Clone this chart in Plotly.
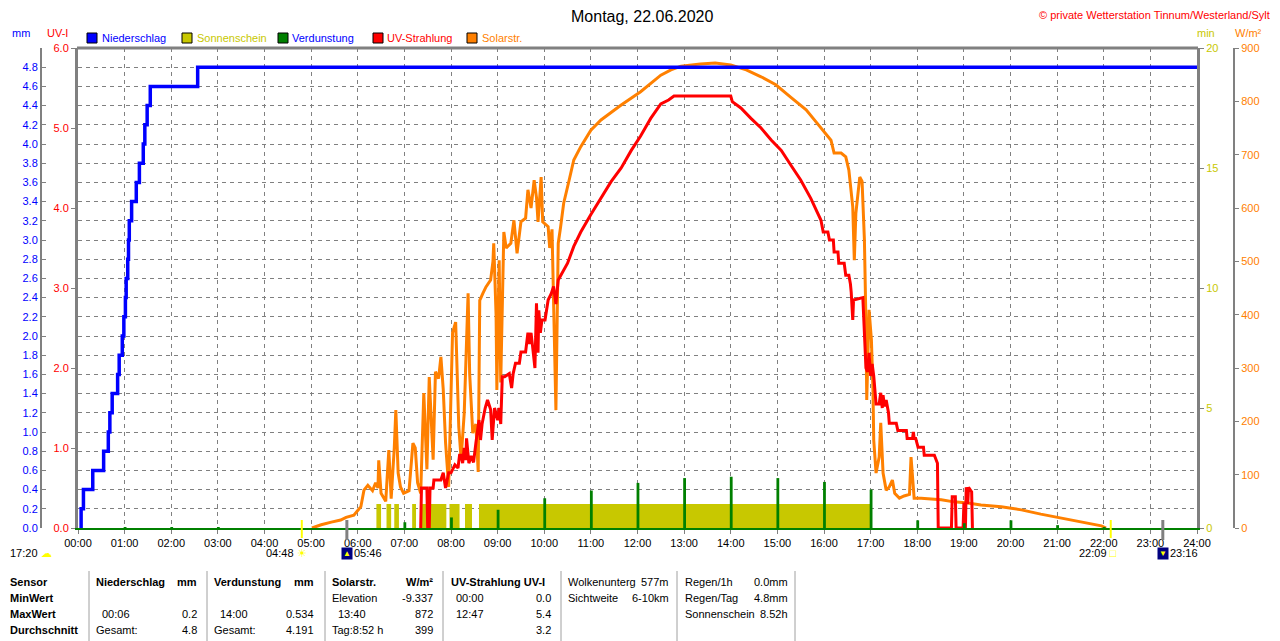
import plotly.graph_objects as go

# ---------------- data ----------------
hour_ticks = list(range(0, 25))
hour_labels = ["%02d:00" % h for h in hour_ticks]

mm_ticks = [0.0, 0.2, 0.4, 0.6, 0.8, 1.0, 1.2, 1.4, 1.6, 1.8, 2.0, 2.2, 2.4,
            2.6, 2.8, 3.0, 3.2, 3.4, 3.6, 3.8, 4.0, 4.2, 4.4, 4.6, 4.8]
uv_ticks = [0, 1, 2, 3, 4, 5, 6]
min_ticks = [0, 5, 10, 15, 20]
wm2_ticks = [0, 100, 200, 300, 400, 500, 600, 700, 800, 900]

# Niederschlag (cumulative, mm)
rain_time = ["00:03", "00:04", "00:07", "00:19", "00:33", "00:39", "00:41", "00:44",
             "00:51", "00:53", "00:57", "00:59", "01:01", "01:02", "01:04", "01:05",
             "01:06", "01:09", "01:15", "01:19", "01:24", "01:26", "01:29", "01:33",
             "02:34", "24:00"]
rain_mm = [0.0, 0.2, 0.4, 0.6, 0.8, 1.0, 1.2, 1.4, 1.6, 1.8, 2.0, 2.2, 2.4, 2.6,
           2.8, 3.0, 3.2, 3.4, 3.6, 3.8, 4.0, 4.2, 4.4, 4.6, 4.8, 4.8]

# Sonnenschein (min per minute), sunny periods
sun_start = ["06:24", "06:37", "06:47", "07:10", "07:21", "07:58", "08:18", "08:36"]
sun_end = ["06:30", "06:43", "06:53", "07:15", "07:54", "08:11", "08:27", "17:00"]
sun_min = [1, 1, 1, 1, 1, 1, 1, 1]

# Verdunstung (hourly, mm)
evap_time = ["01:00", "02:00", "03:00", "07:00", "08:00", "09:00", "10:00", "11:00",
             "12:00", "13:00", "14:00", "15:00", "16:00", "17:00", "18:00", "19:00",
             "20:00", "21:00", "22:00"]
evap_mm = [0.01, 0.01, 0.01, 0.06, 0.11, 0.19, 0.31, 0.39, 0.47, 0.52, 0.534, 0.52,
           0.48, 0.40, 0.08, 0.05, 0.08, 0.03, 0.01]

# UV-Strahlung (UV-I)
uv_time = ["07:21", "07:22", "07:29", "07:30", "07:32", "07:33", "07:37", "07:38",
           "07:47", "07:50", "07:53", "07:55", "07:57", "08:00", "08:05", "08:09",
           "08:11", "08:13", "08:15", "08:17", "08:19", "08:20", "08:23", "08:26",
           "08:29", "08:32", "08:36", "08:38", "08:40", "08:44", "08:47", "08:51",
           "08:53", "08:56", "09:00", "09:02", "09:04", "09:06", "09:09", "09:15",
           "09:18", "09:20", "09:23", "09:28", "09:30", "09:36", "09:39", "09:41",
           "09:43", "09:45", "09:48", "09:50", "09:52", "09:53", "09:55", "09:57",
           "10:01", "10:05", "10:09", "10:12", "10:15", "10:18", "10:24", "10:30",
           "10:38", "10:47", "11:00", "11:13", "11:26", "11:39", "11:52", "12:04",
           "12:17", "12:30", "12:40", "12:47", "14:00", "14:02", "14:13", "14:26",
           "14:39", "14:52", "15:05", "15:17", "15:30", "15:43", "15:56", "15:59",
           "16:05", "16:07", "16:12", "16:13", "16:18", "16:19", "16:26", "16:28",
           "16:32", "16:34", "16:35", "16:37", "16:38", "16:50", "16:52", "16:54",
           "16:56", "16:58", "17:00", "17:02", "17:04", "17:07", "17:11", "17:13",
           "17:15", "17:16", "17:18", "17:20", "17:23", "17:24", "17:33", "17:35",
           "17:46", "17:47", "17:52", "17:54", "17:55", "17:56", "17:58", "18:01",
           "18:08", "18:09", "18:22", "18:25", "18:26", "18:27", "18:44", "18:45",
           "18:49", "18:50", "18:59", "19:00", "19:01", "19:02", "19:03", "19:05",
           "19:06", "19:10", "19:11"]
uv_val = [0.0, 0.5, 0.5, 0.0, 0.0, 0.5, 0.5, 0.6,
          0.6, 0.69, 0.5, 0.62, 0.69, 0.69, 0.79, 0.75,
          0.91, 0.91, 0.81, 1.0, 0.85, 1.12, 0.81, 0.9,
          0.82, 1.06, 1.35, 1.1, 1.3, 1.5, 1.6, 1.48,
          1.1, 1.5, 1.35, 1.5, 1.3, 1.89, 1.89, 1.93,
          1.75, 1.93, 2.06, 2.06, 2.2, 2.2, 2.44, 2.3,
          2.44, 2.27, 2.0, 2.81, 2.19, 2.72, 2.44, 2.6,
          2.6, 2.85, 2.93, 3.02, 2.8, 3.1, 3.2, 3.31,
          3.52, 3.7, 3.92, 4.12, 4.33, 4.5, 4.72, 4.9,
          5.12, 5.3, 5.35, 5.4, 5.4, 5.33, 5.25, 5.12,
          5.0, 4.85, 4.72, 4.54, 4.35, 4.12, 3.85, 3.7,
          3.7, 3.6, 3.6, 3.45, 3.45, 3.31, 3.31, 3.16,
          3.16, 3.05, 2.95, 2.6, 2.85, 2.88, 2.35, 2.0,
          1.95, 2.19, 1.9, 2.05, 1.9, 1.55, 1.55, 1.69,
          1.5, 1.66, 1.52, 1.6, 1.44, 1.31, 1.31, 1.22,
          1.22, 1.12, 1.12, 1.12, 1.2, 1.12, 1.12, 1.01,
          1.01, 0.91, 0.91, 0.81, 0.81, 0.0, 0.0, 0.39,
          0.39, 0.0, 0.0, 0.3, 0.3, 0.0, 0.51, 0.3,
          0.51, 0.45, 0.0]

# Solarstrahlung (W/m²)
solar_time = ["05:01", "05:13", "05:26", "05:38", "05:45", "05:55", "06:04", "06:08",
              "06:13", "06:19", "06:23", "06:26", "06:27", "06:30", "06:36", "06:40",
              "06:43", "06:47", "06:49", "06:52", "06:55", "06:59", "07:06", "07:11",
              "07:14", "07:17", "07:21", "07:25", "07:29", "07:32", "07:37", "07:40",
              "07:44", "07:47", "07:50", "07:53", "07:57", "08:02", "08:06", "08:10",
              "08:13", "08:17", "08:22", "08:24", "08:28", "08:32", "08:35", "08:37",
              "08:41", "08:45", "08:51", "08:54", "08:55", "08:58", "08:59", "09:02",
              "09:04", "09:08", "09:11", "09:17", "09:21", "09:25", "09:30", "09:36",
              "09:39", "09:43", "09:47", "09:50", "09:52", "09:56", "09:58", "10:05",
              "10:07", "10:10", "10:15", "10:18", "10:21", "10:25", "10:32", "10:38",
              "10:47", "11:00", "11:13", "11:39", "12:04", "12:17", "12:30", "12:43",
              "12:56", "13:21", "13:40", "14:00", "14:20", "14:39", "14:58", "15:17",
              "15:37", "15:50", "16:03", "16:09", "16:13", "16:22", "16:28", "16:32",
              "16:37", "16:39", "16:41", "16:44", "16:46", "16:49", "16:52", "16:54",
              "16:55", "16:58", "17:01", "17:03", "17:04", "17:07", "17:11", "17:13",
              "17:16", "17:20", "17:24", "17:28", "17:31", "17:37", "17:43", "17:50",
              "17:52", "17:56", "18:05", "18:31", "18:47", "19:05", "19:22", "19:48",
              "20:14", "20:39", "21:05", "21:31", "21:57", "22:03"]
solar_wm2 = [0, 6, 11, 15, 20, 24, 40, 71,
             80, 70, 85, 75, 127, 65, 50, 146,
             55, 150, 221, 103, 77, 65, 70, 159,
             150, 85, 65, 253, 110, 283, 128, 293,
             280, 321, 260, 160, 77, 366, 386, 190,
             130, 215, 440, 290, 178, 195, 105, 427,
             440, 452, 465, 500, 534, 400, 259, 502,
             273, 555, 525, 534, 577, 515, 574, 581,
             634, 600, 652, 620, 574, 658, 574, 565,
             525, 560, 221, 534, 564, 609, 652, 690,
             715, 746, 765, 793, 818, 834, 849, 859,
             866, 870, 872, 868, 859, 846, 831, 808,
             784, 761, 739, 727, 703, 703, 696, 671,
             602, 502, 590, 628, 658, 650, 540, 384,
             240, 409, 353, 260, 165, 103, 133, 197,
             103, 71, 77, 90, 65, 56, 60, 63,
             133, 56, 56, 53, 49, 47, 43, 40,
             34, 26, 19, 11, 4, 0]

# sun / moon events shown under the time axis
sun_events = ["04:48", "22:09"]
moon_events = ["05:46", "23:16"]
day_length = "17:20"

# statistics table (text, x pixel, anchor, bold, row)
table_rows_y = [582, 598, 614, 630]
table_cells = [
    ("Sensor", 8, "left", True, 0), ("MinWert", 8, "left", True, 1),
    ("MaxWert", 8, "left", True, 2), ("Durchschnitt", 8, "left", True, 3),
    ("Niederschlag", 94, "left", True, 0), ("mm", 199, "right", True, 0),
    ("00:06", 100, "left", False, 2), ("0.2", 199, "right", False, 2),
    ("Gesamt:", 94, "left", False, 3), ("4.8", 199, "right", False, 3),
    ("Verdunstung", 212, "left", True, 0), ("mm", 316, "right", True, 0),
    ("14:00", 218, "left", False, 2), ("0.534", 316, "right", False, 2),
    ("Gesamt:", 212, "left", False, 3), ("4.191", 316, "right", False, 3),
    ("Solarstr.", 330, "left", True, 0), ("W/m²", 435, "right", True, 0),
    ("Elevation", 330, "left", False, 1), ("-9.337", 435, "right", False, 1),
    ("13:40", 336, "left", False, 2), ("872", 435, "right", False, 2),
    ("Tag:8:52 h", 330, "left", False, 3), ("399", 435, "right", False, 3),
    ("UV-Strahlung UV-I", 449, "left", True, 0),
    ("00:00", 454, "left", False, 1), ("0.0", 553, "right", False, 1),
    ("12:47", 454, "left", False, 2), ("5.4", 553, "right", False, 2),
    ("3.2", 553, "right", False, 3),
    ("Wolkenunterg", 566, "left", False, 0), ("577m", 671, "right", False, 0),
    ("Sichtweite", 566, "left", False, 1), ("6-10km", 671, "right", False, 1),
    ("Regen/1h", 683, "left", False, 0), ("0.0mm", 790, "right", False, 0),
    ("Regen/Tag", 683, "left", False, 1), ("4.8mm", 790, "right", False, 1),
    ("Sonnenschein", 683, "left", False, 2), ("8.52h", 790, "right", False, 2),
]
table_separators = [89, 207, 325, 443, 561, 677, 795]

# ---------------- styling ----------------
W, H = 1280, 641
OFF = 8  # page margin of the browser: shift everything so the screenshot lines up
PLOT_L, PLOT_R, PLOT_T, PLOT_B = 78, 1197, 48, 528   # positions in the final screenshot
FONT = "Liberation Sans, Arial, sans-serif"
FS = 11
BLUE, YEL, GREEN, RED, ORANGE, GREY = "#0000FF", "#C8C800", "#008000", "#FF0000", "#FF8000", "#808080"


def t2h(t):
    hh, mm = t.split(":")
    return int(hh) + int(mm) / 60.0


def px(x):
    return (x - OFF) / W


def py(y):
    return (PLOT_B - y) / (PLOT_B - PLOT_T)


fig = go.Figure()

# Sonnenschein bars (main y axis: min)
s_mid = [(t2h(a) + t2h(b)) / 2 for a, b in zip(sun_start, sun_end)]
s_w = [t2h(b) - t2h(a) for a, b in zip(sun_start, sun_end)]
fig.add_trace(go.Bar(x=s_mid, y=sun_min, width=s_w, marker=dict(color=YEL, line=dict(width=0)),
                     yaxis="y", name="Sonnenschein", showlegend=False))

# Solar radiation
fig.add_trace(go.Scatter(x=[t2h(t) for t in solar_time], y=solar_wm2, mode="lines",
                         line=dict(color=ORANGE, width=3), yaxis="y2", name="Solarstr.",
                         showlegend=False))

# UV
fig.add_trace(go.Scatter(x=[t2h(t) for t in uv_time], y=uv_val, mode="lines",
                         line=dict(color=RED, width=3), yaxis="y3", name="UV-Strahlung",
                         showlegend=False))

# Verdunstung
fig.add_trace(go.Bar(x=[t2h(t) + 0.01 for t in evap_time], y=evap_mm, width=0.06,
                     marker=dict(color=GREEN, line=dict(width=0)), yaxis="y4",
                     name="Verdunstung", showlegend=False))

# Niederschlag
fig.add_trace(go.Scatter(x=[t2h(t) for t in rain_time], y=rain_mm, mode="lines",
                         line=dict(color=BLUE, width=3.5, shape="hv"), yaxis="y4",
                         name="Niederschlag", showlegend=False))

tickfont = dict(family=FONT, size=FS)

fig.update_layout(
    width=W, height=H,
    margin=dict(l=0, r=0, t=PLOT_T - OFF, b=H - (PLOT_B - OFF), pad=0, autoexpand=False),
    paper_bgcolor="white", plot_bgcolor="white",
    barmode="overlay", showlegend=False, hovermode=False,
    font=dict(family=FONT, size=FS, color="black"),
    xaxis=dict(domain=[px(PLOT_L), px(PLOT_R)], range=[0, 24], tickvals=hour_ticks,
               ticktext=hour_labels, showgrid=True, gridcolor=GREY, griddash="4px,4px",
               gridwidth=1, showline=True, linecolor=GREEN, linewidth=2, ticks="outside",
               ticklen=4, tickcolor=GREY, tickfont=dict(tickfont, color="black"),
               zeroline=False, fixedrange=True, automargin=False),
    yaxis=dict(range=[0, 20], tickvals=min_ticks, side="right", anchor="x",
               showgrid=False, zeroline=False, showline=True, linecolor=GREY, linewidth=3,
               ticks="outside", ticklen=4, tickcolor=GREY, automargin=False,
               tickfont=dict(tickfont, color=YEL), fixedrange=True),
    yaxis2=dict(range=[0, 900], tickvals=wm2_ticks, side="right", overlaying="y",
                anchor="free", position=px(1234), showgrid=False, zeroline=False,
                showline=True, linecolor=GREY, linewidth=2, ticks="outside", ticklen=4,
                tickcolor=GREY, tickfont=dict(tickfont, color=ORANGE), fixedrange=True,
                automargin=False),
    yaxis3=dict(range=[0, 6], tickvals=uv_ticks, tickformat=".1f", side="left",
                overlaying="y", anchor="x", showgrid=False, zeroline=False,
                showline=True, linecolor=GREY, linewidth=3, ticks="outside", ticklen=4,
                tickcolor=GREY, tickfont=dict(tickfont, color=RED), fixedrange=True,
                automargin=False),
    yaxis4=dict(range=[0, 5], tickvals=mm_ticks, tickformat=".1f", side="left",
                overlaying="y", anchor="free", position=px(41), showgrid=True,
                gridcolor=GREY, griddash="4px,4px", gridwidth=1, zeroline=False,
                showline=True, linecolor=GREY, linewidth=2, ticks="inside", ticklen=4,
                tickcolor=GREY, tickfont=dict(tickfont, color=BLUE), fixedrange=True,
                automargin=False),
)

shapes = []
annotations = []

# top border of plot
shapes.append(dict(type="line", xref="paper", yref="paper", x0=px(PLOT_L - 1), x1=px(PLOT_R + 1),
                   y0=1, y1=1, line=dict(color=GREY, width=3), layer="above"))

# sun / moon markers across the time axis
for t in sun_events:
    shapes.append(dict(type="line", xref="x", yref="paper", x0=t2h(t), x1=t2h(t),
                       y0=py(520), y1=py(538), line=dict(color="#FFFF00", width=2)))
for t in moon_events:
    shapes.append(dict(type="line", xref="x", yref="paper", x0=t2h(t), x1=t2h(t),
                       y0=py(520), y1=py(540), line=dict(color=GREY, width=3)))

# axis unit titles
for txt, x, col in [("mm", 21, BLUE), ("UV-I", 57, RED), ("min", 1206, YEL), ("W/m²", 1248, ORANGE)]:
    annotations.append(dict(text=txt, x=px(x), y=py(33), xref="paper", yref="paper",
                            showarrow=False, xanchor="center", yanchor="middle",
                            font=dict(family=FONT, size=FS, color=col)))

# title + copyright
annotations.append(dict(text="Montag, 22.06.2020", x=px(642), y=py(17), xref="paper", yref="paper",
                        showarrow=False, xanchor="center", yanchor="middle",
                        font=dict(family=FONT, size=16, color="black")))
annotations.append(dict(text="© private Wetterstation Tinnum/Westerland/Sylt", x=px(1272), y=py(15),
                        xref="paper", yref="paper", showarrow=False, xanchor="right",
                        yanchor="middle", font=dict(family=FONT, size=FS, color=RED)))

# legend (boxes + labels)
legend_items = [("Niederschlag", BLUE, BLUE, 87, 100), ("Sonnenschein", YEL, YEL, 182, 195),
                ("Verdunstung", GREEN, BLUE, 278, 290), ("UV-Strahlung", RED, RED, 373, 385),
                ("Solarstr.", ORANGE, ORANGE, 467, 480)]
for label, fill, tcol, bx, tx in legend_items:
    shapes.append(dict(type="rect", xref="paper", yref="paper", x0=px(bx), x1=px(bx + 10),
                       y0=py(43), y1=py(33), fillcolor=fill, line=dict(color="black", width=1)))
    annotations.append(dict(text=label, x=px(tx), y=py(38), xref="paper", yref="paper",
                            showarrow=False, xanchor="left", yanchor="middle",
                            font=dict(family=FONT, size=FS, color=tcol)))

# sun / moon labels under axis
annotations.append(dict(text=day_length + " <span style='color:#FFFF00'>☁</span>", x=px(8), y=py(553),
                        xref="paper", yref="paper", showarrow=False, xanchor="left",
                        yanchor="middle", font=dict(family=FONT, size=FS, color="black")))
annotations.append(dict(text=sun_events[0] + " <span style='color:#FFFF00'>☀</span>", x=t2h(sun_events[0]),
                        xshift=7, y=py(553), xref="x", yref="paper", showarrow=False,
                        xanchor="right", yanchor="middle",
                        font=dict(family=FONT, size=FS, color="black")))
annotations.append(dict(text=sun_events[1] + " <span style='color:#FFFF00'>□</span>", x=t2h(sun_events[1]),
                        xshift=8, y=py(553), xref="x", yref="paper", showarrow=False,
                        xanchor="right", yanchor="middle",
                        font=dict(family=FONT, size=FS, color="black")))
for t, arrow in zip(moon_events, ["▲", "▼"]):
    annotations.append(dict(text=arrow, x=t2h(t), y=py(553), xref="x", yref="paper",
                            showarrow=False, xanchor="center", yanchor="middle",
                            bgcolor="#000080", borderpad=1,
                            font=dict(family=FONT, size=8, color="#FFFF00")))
    annotations.append(dict(text=t, x=t2h(t), xshift=5, y=py(553), xref="x", yref="paper",
                            showarrow=False, xanchor="left", yanchor="middle",
                            font=dict(family=FONT, size=FS, color="black")))

# statistics table
for txt, x, anchor, bold, row in table_cells:
    annotations.append(dict(text=("<b>%s</b>" % txt) if bold else txt, x=px(x), y=py(table_rows_y[row]),
                            xref="paper", yref="paper", showarrow=False, xanchor=anchor,
                            yanchor="middle", font=dict(family=FONT, size=FS, color="black")))
for x in table_separators:
    shapes.append(dict(type="line", xref="paper", yref="paper", x0=px(x), x1=px(x),
                       y0=py(571), y1=py(641), line=dict(color="#A0A0A0", width=1)))

fig.update_layout(shapes=shapes, annotations=annotations)
fig.write_html("out.html")
